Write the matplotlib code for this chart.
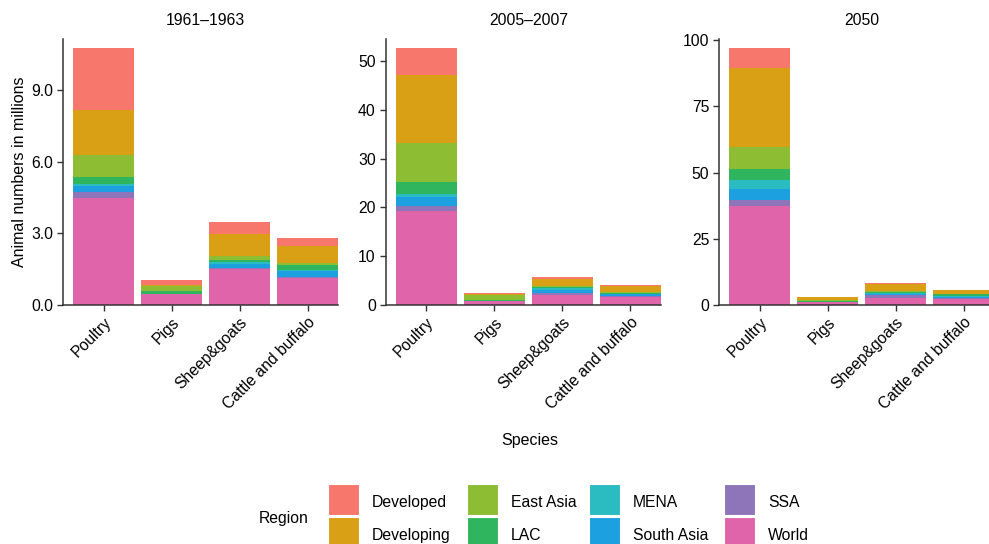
import matplotlib.pyplot as plt
from matplotlib.patches import Rectangle
import numpy as np

plt.rcParams['font.family'] = ['Liberation Sans', 'DejaVu Sans']

species = ["Poultry", "Pigs", "Sheep&goats", "Cattle and buffalo"]
periods = ["1961\u20131963", "2005\u20132007", "2050"]

# stacking order, bottom to top
regions = ["World", "SSA", "South Asia", "MENA", "LAC", "East Asia", "Developing", "Developed"]
region_colors = {
    "Developed": "#F7776C",
    "Developing": "#D9A016",
    "East Asia": "#8CBD33",
    "LAC": "#2FB55E",
    "MENA": "#2ABCC1",
    "South Asia": "#1CA0E0",
    "SSA": "#8E74B9",
    "World": "#E064AA",
}
legend_order = ["Developed", "Developing", "East Asia", "LAC", "MENA", "South Asia", "SSA", "World"]

# segment heights (millions), rows follow `regions`, columns follow `species`
vals_1961 = [
    [4.48, 0.47, 1.51, 1.13],
    [0.23, 0.00, 0.02, 0.05],
    [0.25, 0.00, 0.20, 0.25],
    [0.11, 0.00, 0.09, 0.05],
    [0.29, 0.10, 0.08, 0.18],
    [0.93, 0.22, 0.13, 0.10],
    [1.88, 0.06, 0.92, 0.69],
    [2.58, 0.18, 0.54, 0.37],
]
vals_2005 = [
    [19.2, 0.80, 2.00, 1.64],
    [1.1, 0.00, 0.50, 0.30],
    [1.8, 0.05, 0.60, 0.25],
    [0.7, 0.00, 0.30, 0.10],
    [2.4, 0.15, 0.20, 0.25],
    [8.0, 1.00, 0.20, 0.10],
    [13.9, 0.35, 1.60, 1.30],
    [5.6, 0.10, 0.25, 0.25],
]
vals_2050 = [
    [37.3, 1.10, 2.80, 2.20],
    [2.5, 0.05, 1.00, 0.50],
    [3.9, 0.05, 0.30, 0.20],
    [3.4, 0.05, 0.50, 0.60],
    [4.4, 0.20, 0.40, 0.60],
    [8.2, 0.30, 0.15, 0.10],
    [30.0, 1.10, 2.90, 1.40],
    [7.4, 0.15, 0.25, 0.20],
]
all_vals = [vals_1961, vals_2005, vals_2050]
ylims = [11.13, 54.5, 100.5]
yticks = [[0, 3, 6, 9], [0, 10, 20, 30, 40, 50], [0, 25, 50, 75, 100]]
ytick_fmt = ["{:.1f}", "{:d}", "{:d}"]

W, H = 989, 544
fig = plt.figure(figsize=(W / 100, H / 100), dpi=100)

lefts = [63, 385.5, 719]
ax_w = 275.4
ax_top, ax_bot = 39, 305
fs = 11.3
dark = "#333333"

x = np.arange(1, len(species) + 1)
for i, (left, vals) in enumerate(zip(lefts, all_vals)):
    ax = fig.add_axes([left / W, 1 - ax_bot / H, ax_w / W, (ax_bot - ax_top) / H])
    bottom = np.zeros(len(species))
    for reg, row in zip(regions, vals):
        row = np.array(row)
        ax.bar(x, row, width=0.9, bottom=bottom, color=region_colors[reg], linewidth=0)
        bottom += row
    ax.set_xlim(0.4, 4.45)
    ax.set_ylim(0, ylims[i])
    ax.set_yticks(yticks[i])
    ax.set_yticklabels([ytick_fmt[i].format(t if i == 0 else int(t)) for t in yticks[i]], fontsize=fs)
    ax.set_xticks(x)
    ax.set_xticklabels(species, rotation=45, ha="right", va="top", rotation_mode="anchor", fontsize=fs)
    ax.tick_params(length=4, width=1, color=dark, labelcolor="black", pad=3)
    for s in ["top", "right"]:
        ax.spines[s].set_visible(False)
    for s in ["left", "bottom"]:
        ax.spines[s].set_color(dark)
        ax.spines[s].set_linewidth(1.1)
    ax.set_title(periods[i], fontsize=fs, x=(2.5 - 0.4) / 4.05, pad=10)
    if i == 0:
        ax.set_ylabel("Animal numbers in millions", fontsize=fs + 0.2, labelpad=3)

fig.text(530 / W, 1 - 440 / H, "Species", fontsize=fs + 0.2, ha="center", va="center")

# legend
fig.text(284 / W, 1 - 519 / H, "Region", fontsize=fs, ha="center", va="center")
key_x = [328, 467, 589, 724]
key_y = [484, 517]
key_s = 31
for j, reg in enumerate(legend_order):
    col, r = j // 2, j % 2
    kx, ky = key_x[col], key_y[r]
    fig.patches.append(Rectangle((kx / W, 1 - (ky + key_s) / H), key_s / W, key_s / H,
                                 transform=fig.transFigure, facecolor=region_colors[reg],
                                 edgecolor="white", linewidth=0.8))
    fig.text((kx + key_s + 13) / W, 1 - (ky + key_s / 2 + 3) / H, reg, fontsize=fs, ha="left", va="center")

fig.savefig("out.png", dpi=100)
